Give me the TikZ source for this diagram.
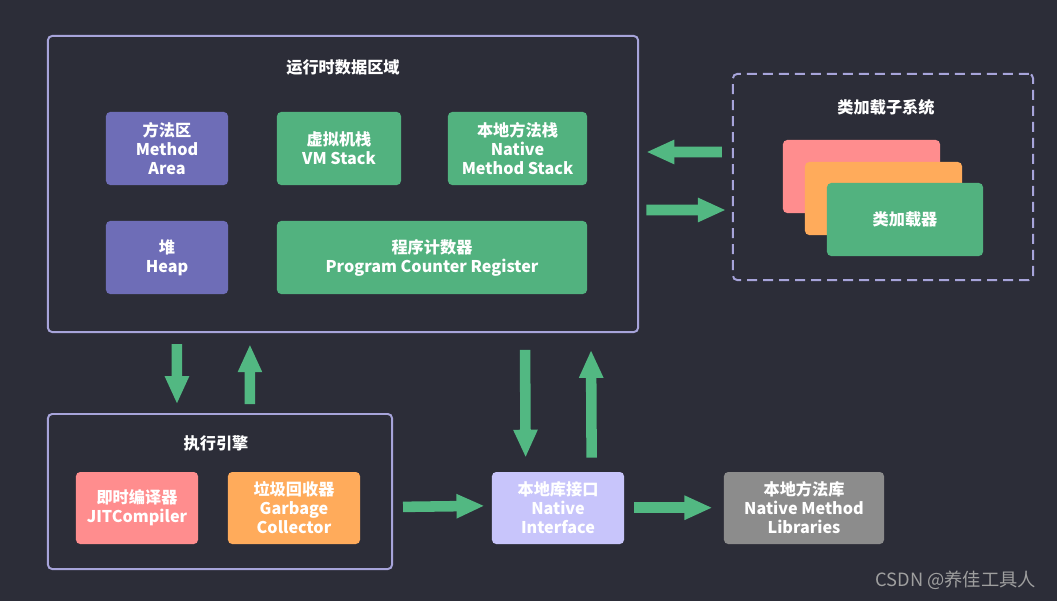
\documentclass[tikz,border=0pt]{standalone}
\usepackage{fontspec}
\setmainfont{Noto Sans CJK SC}
\usepackage{tikz}
\usetikzlibrary{positioning,arrows.meta,calc}
\definecolor{jvmbg}{HTML}{2C2D38}
\definecolor{jvmline}{HTML}{A7A4DA}
\definecolor{jvmpurple}{HTML}{6E6DB7}
\definecolor{jvmgreen}{HTML}{52B27F}
\definecolor{jvmpink}{HTML}{FF8D8E}
\definecolor{jvmorange}{HTML}{FFAB5B}
\definecolor{jvmlav}{HTML}{C8C5FB}
\definecolor{jvmgray}{HTML}{8C8C8C}
\definecolor{jvmarrow}{HTML}{52B882}
\newcommand\blkfont{\fontsize{11.5}{13.5}\selectfont\bfseries}
\tikzset{
  frame/.style={draw=jvmline, line width=1.4pt, rounded corners=3pt, inner sep=0pt},
  dashframe/.style={frame, dash pattern=on 0.25cm off 0.15cm},
  blk/.style={rounded corners=3pt, inner sep=0pt, align=center, text=white,
              font=\blkfont, minimum height=1.825cm},
  ttl/.style={text=white, font=\blkfont},
  fat/.style={draw=jvmarrow, line width=7.5pt, -{Triangle[length=7mm,width=5.6mm]}},
}

\begin{document}
\begin{tikzpicture}[x=0.025cm,y=-0.025cm]
  \fill[jvmbg] (0,0) rectangle (1057,601);
  \useasboundingbox (0,0) rectangle (1057,601);
  % runtime data area
  \node[frame, minimum width=14.75cm, minimum height=7.4cm] (rda) at (343,184) {};
  \node[ttl] (rdat) at (343,67) {运行时数据区域};
  \node[blk, fill=jvmpurple, minimum width=3.05cm] (meth) at (167,148.5) {方法区\\Method\\Area};
  \node[blk, fill=jvmgreen, minimum width=3.1cm] (vms) at (339,148.5) {虚拟机栈\\VM Stack};
  \node[blk, fill=jvmgreen, minimum width=3.475cm] (nms) at (517.5,148.5) {本地方法栈\\Native\\Method Stack};
  \node[blk, fill=jvmpurple, minimum width=3.05cm] (heap) at (167,257.5) {堆\\Heap};
  \node[blk, fill=jvmgreen, minimum width=7.75cm] (pcr) at (432,257.5) {程序计数器\\Program Counter Register};
  % class loader subsystem
  \node[dashframe, minimum width=7.5cm, minimum height=5.15cm] (cls) at (883,177) {};
  \node[ttl] (clst) at (886,107) {类加载子系统};
  \node[blk, fill=jvmpink, minimum width=3.925cm] (ld1) at (861.5,176.5) {};
  \node[blk, fill=jvmorange, minimum width=3.925cm] (ld2) at (883.5,198.5) {};
  \node[blk, fill=jvmgreen, minimum width=3.9cm] (ld3) at (905,219.5) {类加载器};
  % execution engine
  \node[frame, minimum width=8.6cm, minimum height=3.875cm] (exe) at (220,491.5) {};
  \node[ttl] (exet) at (216,443) {执行引擎};
  \node[blk, fill=jvmpink, minimum width=3.05cm, minimum height=1.8cm] (jit) at (137,508) {即时编译器\\JITCompiler};
  \node[blk, fill=jvmorange, minimum width=3.3cm, minimum height=1.8cm] (gc) at (294,508) {垃圾回收器\\Garbage\\Collector};
  % native side
  \node[blk, fill=jvmlav, minimum width=3.3cm, minimum height=1.8cm] (ni) at (558,508) {本地库接口\\Native\\Interface};
  \node[blk, fill=jvmgray, minimum width=4.0cm, minimum height=1.8cm] (nml) at (804,508) {本地方法库\\Native Method\\Libraries};
  \node[text=gray!75, font=\fontsize{13}{15}\selectfont, anchor=east] (wm) at (1041,580) {CSDN @养佳工具人};
  % arrows
  \draw[fat, shorten <=0.25cm, shorten >=0.18cm]
    ($(cls.north west)+(0,79)$) -- ($(rda.north east)+(0,117)$);
  \draw[fat, shorten <=0.18cm, shorten >=0.15cm]
    ($(rda.north east)+(0,175)$) -- ($(cls.north west)+(0,137)$);
  \draw[fat, shorten <=0.28cm, shorten >=0.22cm]
    ($(rda.south west)+(130,0)$) -- ($(exe.north west)+(130,0)$);
  \draw[fat, shorten <=0.22cm, shorten >=0.28cm]
    ($(exe.north west)+(203,0)$) -- ($(rda.south west)+(203,0)$);
  \draw[fat, shorten <=0.42cm, shorten >=0.35cm]
    ($(rda.south west)+(478,0)$) -- ($(ni.north west)+(34,0)$);
  \draw[fat, shorten <=0.35cm, shorten >=0.42cm]
    ($(ni.north west)+(100,0)$) -- ($(rda.south west)+(544,0)$);
  \draw[fat, shorten <=0.25cm, shorten >=0.18cm]
    ($(exe.south east)+(0,-63)$) -- ($(ni.north west)+(0,34)$);
  \draw[fat, shorten <=0.25cm, shorten >=0.28cm]
    ($(ni.north east)+(0,36)$) -- ($(nml.north west)+(0,36)$);
\end{tikzpicture}
\end{document}
